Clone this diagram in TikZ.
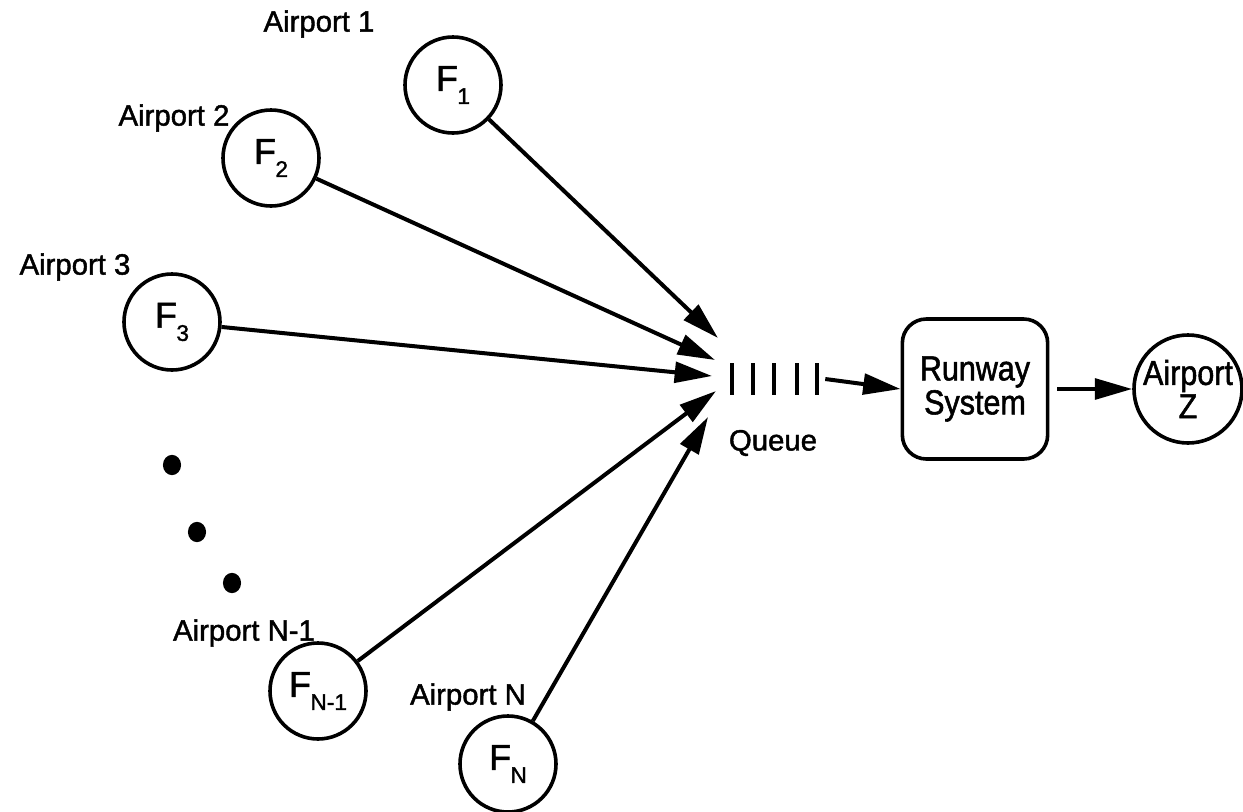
\documentclass[tikz,border=0pt]{standalone}
\usepackage{fontspec}
\setmainfont[FakeBold=1.5]{Liberation Sans}
\newfontfamily\boxfont[FakeStretch=0.88,FakeBold=1.5]{Liberation Sans}
\usetikzlibrary{arrows.meta}
% flow label: F with a deeply lowered index
\newcommand{\Fsub}[1]{{\fontsize{27}{27}\selectfont F}\kern-0.02em\raisebox{-0.45em}{\fontsize{17}{17}\selectfont #1}}
\begin{document}
\begin{tikzpicture}[x=0.75pt,y=-0.75pt,
  every node/.style={font=\fontsize{22}{23}\selectfont},
  src/.style={circle,draw,line width=2.7pt,minimum size=72pt,inner sep=0pt},
  link/.style={line width=3pt,-{Triangle[length=28pt,width=15.5pt]}},
  lbl/.style={inner sep=0pt},
  bar/.style={line width=2.8pt}]
\useasboundingbox (0,0) rectangle (1243,811);

% origin airports
\node[src] (F1)  at (453,85)  {\Fsub{1}};
\node[src] (F2)  at (271,158) {\Fsub{2}};
\node[src] (F3)  at (172,322) {\Fsub{3}};
\node[src] (FN1) at (318,691) {\Fsub{N-1}};
\node[src] (FN)  at (508,764) {\Fsub{N}};

\node[lbl] (A1)  at (319,24)  {Airport 1};
\node[lbl] (A2)  at (174,118) {Airport 2};
\node[lbl] (A3)  at (75,267)  {Airport 3};
\node[lbl] (AN1) at (244,633) {Airport N-1};
\node[lbl] (AN)  at (468,697) {Airport N};

% ellipsis between airport 3 and airport N-1
\fill (172,465) circle[x radius=6.8pt,y radius=7.6pt];
\fill (197,532) circle[x radius=6.8pt,y radius=7.6pt];
\fill (232,583) circle[x radius=6.8pt,y radius=7.6pt];

% queue
\node[minimum width=72pt,minimum height=30pt,inner sep=0pt] (queue) at (777,379) {};
\foreach \x in {732,753,774,797,817} \draw[bar] (\x,363) -- (\x,395);
\node[lbl] (qlbl) at (773,443) {Queue};

% arrival points at the queue
\coordinate (t1) at (718,338);
\coordinate (t2) at (715,360);
\coordinate (t3) at (712,376);
\coordinate (t4) at (716,391);
\coordinate (t5) at (708,417);

\draw[link] (F1)  -- (t1);
\draw[link] (F2)  -- (t2);
\draw[link] (F3)  -- (t3);
\draw[link] (FN1) -- (t4);
\draw[link] (FN)  -- (t5);

% runway and destination
\node[draw,rounded corners=18pt,line width=2.7pt,minimum width=109pt,minimum height=105pt,
      align=center,inner sep=0pt,font=\boxfont\fontsize{26}{25.5}\selectfont] (RS) at (975,389) {Runway\\System};
\node[src,minimum size=81pt,align=center,font=\boxfont\fontsize{26}{25}\selectfont] (Z) at (1188,389) {Airport\\Z};

\draw[link] (queue.east) -- (RS.west);
\draw[link,shorten <=6pt] (RS) -- (Z);
\end{tikzpicture}
\end{document}
